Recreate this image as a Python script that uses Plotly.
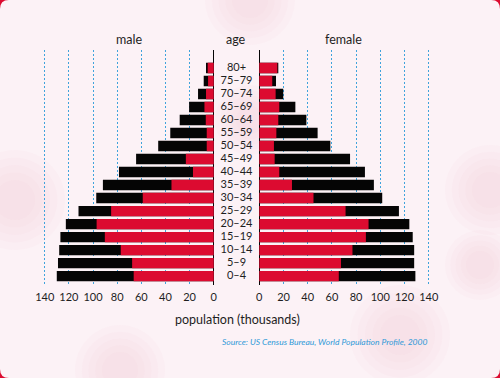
import plotly.graph_objects as go

# ---- data (ages listed bottom -> top) ----
ages = ["0–4", "5–9", "10–14", "15–19", "20–24", "25–29", "30–34", "35–39",
        "40–44", "45–49", "50–54", "55–59", "60–64", "65–69", "70–74", "75–79", "80+"]
male_total = [130, 129, 128, 127, 122.5, 112, 97.3, 91.8, 78.5, 64.3, 46, 36, 28.2, 20.4, 13, 8.3, 6.4]
male_red = [66.3, 67.6, 77, 90.2, 97, 85, 58.8, 35, 17.2, 23.1, 5.8, 5.8, 6.6, 7.7, 6.4, 4.7, 5.0]
female_total = [129, 128, 128, 126.8, 124, 115.4, 101.6, 94.7, 87.3, 75, 58.7, 48.2, 38.9, 29.8, 19.8, 13.8, 15.7]
female_red = [65.7, 67.5, 77, 88.1, 90.3, 71.3, 44.8, 27, 16.5, 12.7, 12.1, 14.1, 15.7, 16.5, 13.5, 10.7, 14.9]
tick_vals = [0, 20, 40, 60, 80, 100, 120, 140]

RED = "#dc0b30"
BLACK = "#050505"
GRID = "#3fa3dc"
TXT = "#1e1e1e"
FONT = "Lato"

W, H = 500, 378
T, B = 50, 93
PH = H - T - B


def py(px):
    """figure pixel y -> paper y"""
    return (H - B - px) / PH


fig = go.Figure()

# male
fig.add_trace(go.Bar(y=ages, x=male_total, orientation="h", marker=dict(color=BLACK, line=dict(width=0)),
                     xaxis="x", yaxis="y", showlegend=False, hoverinfo="skip"))
fig.add_trace(go.Bar(y=ages, x=male_red, orientation="h", marker=dict(color=RED, line=dict(width=0)),
                     xaxis="x", yaxis="y", showlegend=False, hoverinfo="skip"))
# female
fig.add_trace(go.Bar(y=ages, x=female_total, orientation="h", marker=dict(color=BLACK, line=dict(width=0)),
                     xaxis="x2", yaxis="y", showlegend=False, hoverinfo="skip"))
fig.add_trace(go.Bar(y=ages, x=female_red, orientation="h", marker=dict(color=RED, line=dict(width=0)),
                     xaxis="x2", yaxis="y", showlegend=False, hoverinfo="skip"))
# age labels (center column)
fig.add_trace(go.Scatter(y=ages, x=[0.5] * len(ages), mode="text", text=ages,
                         textfont=dict(family=FONT, size=11, color=TXT),
                         xaxis="x3", yaxis="y", showlegend=False, hoverinfo="skip"))

axis_common = dict(
    tickvals=tick_vals, ticktext=[str(v) for v in tick_vals],
    showgrid=True, gridcolor=GRID, griddash="2px,2px", gridwidth=1,
    zeroline=True, zerolinecolor=BLACK, zerolinewidth=1.2,
    showline=False, ticks="outside", ticklen=2, tickcolor="rgba(0,0,0,0)",
    tickfont=dict(family=FONT, size=11, color=TXT), fixedrange=True, automargin=False,
)

fig.update_layout(
    width=W, height=H,
    margin=dict(l=0, r=0, t=T, b=B, pad=0, autoexpand=False),
    paper_bgcolor=RED,
    plot_bgcolor="rgba(0,0,0,0)",
    barmode="overlay", bargap=0.2,
    xaxis=dict(domain=[43.5 / W, 214.4 / W], range=[141, -0.55], anchor="y", **axis_common),
    xaxis2=dict(domain=[258.7 / W, 429.9 / W], range=[-0.5, 141], anchor="y", **axis_common),
    xaxis3=dict(domain=[214.4 / W, 258.7 / W], range=[0, 1], anchor="y", visible=False, fixedrange=True),
    yaxis=dict(categoryorder="array", categoryarray=ages, range=[-0.68, 17.38], automargin=False,
               showticklabels=False, showgrid=False, zeroline=False, showline=False, fixedrange=True),
    font=dict(family=FONT, color=TXT),
)

# rounded pink-white panel over red paper (red shows only at corners)
r = 9
x0, x1 = 0, W
y0, y1 = 0, H


def p(xp, yp):
    return f"{xp / W:.5f},{py(yp):.5f}"


path = (f"M {p(x0 + r, y0)} L {p(x1 - r, y0)} Q {p(x1, y0)} {p(x1, y0 + r)} "
        f"L {p(x1, y1 - r)} Q {p(x1, y1)} {p(x1 - r, y1)} L {p(x0 + r, y1)} "
        f"Q {p(x0, y1)} {p(x0, y1 - r)} L {p(x0, y0 + r)} Q {p(x0, y0)} {p(x0 + r, y0)} Z")
shapes = [dict(type="path", path=path, xref="paper", yref="paper", fillcolor="#fcf2f6",
               line=dict(width=0), layer="below")]

# soft pink blotches (stacked translucent discs to fake a blur)
blobs = [(250, 0, 45), (15, 200, 50), (490, 190, 45), (480, 265, 35), (400, 335, 50), (120, 370, 45), (250, 120, 35)]
for cx, cy, rad in blobs:
    for f in [1.0, 0.85, 0.7, 0.55, 0.4]:
        rr = rad * f
        shapes.append(dict(type="circle", xref="paper", yref="paper",
                           x0=(cx - rr) / W, x1=(cx + rr) / W, y0=py(cy + rr), y1=py(cy - rr),
                           fillcolor="rgba(232,170,198,0.05)", line=dict(width=0), layer="below"))
fig.update_layout(shapes=shapes)

ann = [
    dict(text="male", x=129 / W, y=py(40)),
    dict(text="age", x=236 / W, y=py(40)),
    dict(text="female", x=343 / W, y=py(40)),
    dict(text="population (thousands)", x=237 / W, y=py(319)),
]
annotations = [dict(xref="paper", yref="paper", showarrow=False, xanchor="center", yanchor="middle",
                    font=dict(family=FONT, size=12.5, color=TXT), **a) for a in ann]
annotations.append(dict(text="<i>Source: US Census Bureau, World Population Profile, 2000</i>",
                        xref="paper", yref="paper", x=429 / W, y=py(342), xanchor="right", yanchor="middle",
                        showarrow=False, font=dict(family=FONT, size=8.5, color="#2f9ad8")))
fig.update_layout(annotations=annotations)

fig.write_html("out.html", config={"displayModeBar": False},
               post_script="document.body.style.margin='0';")
